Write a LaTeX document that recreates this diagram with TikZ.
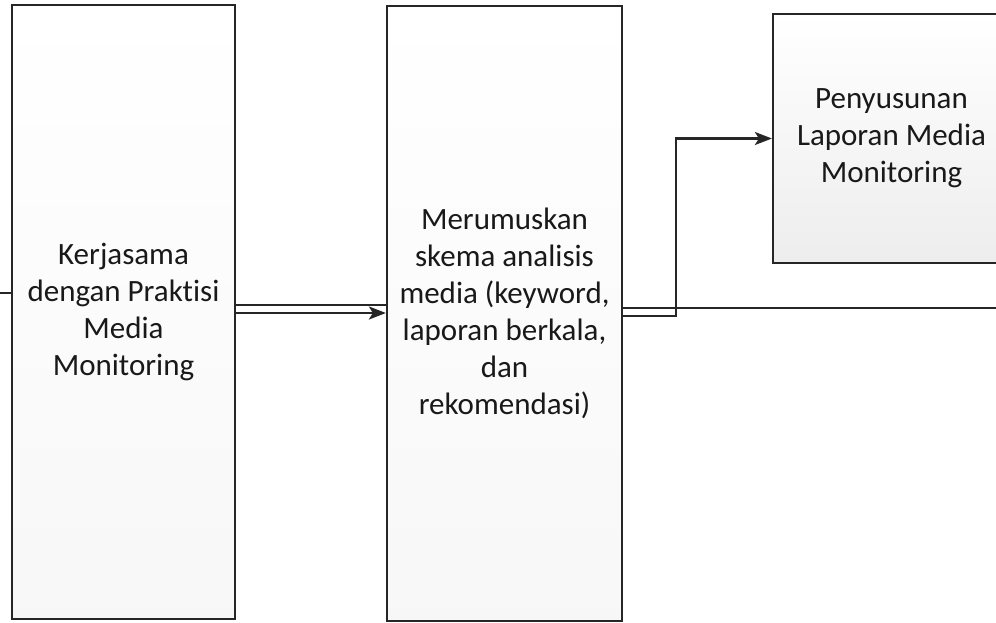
\documentclass[tikz,border=0pt]{standalone}
\usepackage{fontspec}
\setmainfont{Carlito}[Ligatures={NoCommon}]
\usetikzlibrary{arrows.meta}
\definecolor{ink}{HTML}{262626}
\begin{document}
\begin{tikzpicture}[x=1pt,y=-1pt,
  box/.style={draw=ink, line width=2.2pt, top color=white, bottom color=gray!6,
    align=center, font=\fontsize{31}{37}\selectfont, inner sep=0pt, text=black!90},
  boxdark/.style={box, bottom color=gray!14},
  ln/.style={draw=ink, line width=2.2pt},
  arr/.style={ln, -{Stealth[length=17pt,width=13pt,inset=4pt]}}]
\useasboundingbox (0,0) rectangle (996,623);
\clip (0,0) rectangle (996,623);
\node[box, minimum width=223pt, minimum height=614pt] (b1) at (123.5,312)
  {Kerjasama\\dengan Praktisi\\Media\\Monitoring};
\node[box, minimum width=235pt, minimum height=615pt] (b2) at (504.5,313.5)
  {Merumuskan\\skema analisis\\media (keyword,\\laporan berkala,\\dan\\rekomendasi)};
\node[boxdark, minimum width=237pt, minimum height=249pt] (b3) at (891.5,138.5)
  {Penyusunan\\Laporan Media\\Monitoring};
\coordinate (s) at (0,293);
\coordinate (y305) at (0,305);
\coordinate (y313) at (0,313);
\coordinate (y316) at (0,316);
\coordinate (k) at (676,316);
\coordinate (e) at (996,308);
\draw[ln] (s) -- (s -| b1.west);
\draw[ln] (b1.east |- y305) -- (b2.west |- y305);
\draw[arr] (b1.east |- y313) -- (b2.west |- y313);
\draw[ln] (b2.east |- e) -- (e);
\draw[arr] (b2.east |- y316) -- (k) |- (b3.west);
\end{tikzpicture}
\end{document}
